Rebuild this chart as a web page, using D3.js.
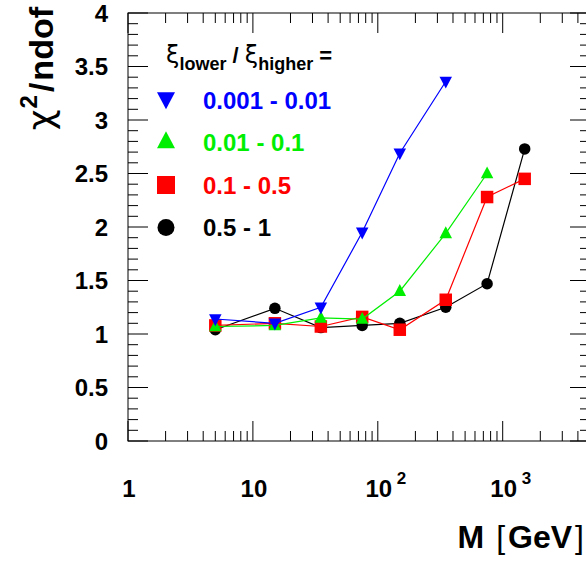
<!DOCTYPE html>
<html><head><meta charset="utf-8">
<script src="https://cdn.jsdelivr.net/npm/d3@7"></script>
<style>body{margin:0;background:#fff}svg{display:block}text{font-family:"Liberation Sans",Arial,Helvetica,sans-serif}</style>
</head><body>
<script>
// ---- data ----
const massValues = [5, 15, 35, 75, 150, 350, 750, 1500];
const seriesNames = ["0.001 - 0.01", "0.01 - 0.1", "0.1 - 0.5", "0.5 - 1"];
const seriesColors = ["#0000ff", "#00ee00", "#ff0000", "#000000"];
const seriesMarkers = ["triDown", "triUp", "square", "circle"];
const blueValues  = [1.14, 1.10, 1.25, 1.95, 2.69, 3.36];
const greenValues = [1.07, 1.08, 1.15, 1.14, 1.40, 1.94, 2.50];
const redValues   = [1.08, 1.10, 1.07, 1.16, 1.04, 1.32, 2.28, 2.45];
const blackValues = [1.04, 1.24, 1.06, 1.08, 1.10, 1.25, 1.47, 2.73];
const yTickLabels = ["0", "0.5", "1", "1.5", "2", "2.5", "3", "3.5", "4"];
const xTickLabels = [["1", ""], ["10", ""], ["10", "2"], ["10", "3"]];

const W = 586, H = 561;
const svg = d3.select("body").append("svg").attr("width", W).attr("height", H);
svg.append("rect").attr("width", W).attr("height", H).attr("fill", "#fff");

const x = d3.scaleLog().domain([1, 5000]).range([128, 590]);
const y = d3.scaleLinear().domain([0, 4]).range([441, 13]);

// frame
const g = svg.append("g");
g.append("rect").attr("x", x(1)).attr("y", y(4)).attr("width", x(5000) - x(1)).attr("height", y(0) - y(4))
  .attr("fill", "none").attr("stroke", "#000").attr("stroke-width", 1);

// y ticks
const yMinor = d3.range(0, 41).map(i => i / 10);
yMinor.forEach(v => {
  const major = Math.abs(v * 2 - Math.round(v * 2)) < 1e-6;
  const L = major ? 20 : 10;
  g.append("line").attr("x1", x(1)).attr("x2", x(1) + L).attr("y1", y(v)).attr("y2", y(v)).attr("stroke", "#000");
  g.append("line").attr("x1", x(5000)).attr("x2", x(5000) - L).attr("y1", y(v)).attr("y2", y(v)).attr("stroke", "#000");
});
yTickLabels.forEach(t => {
  const v = +t;
  g.append("text").attr("x", 108).attr("y", y(v)).attr("dy", "0.36em").attr("text-anchor", "end")
    .attr("font-size", 24).attr("font-weight", "bold").text(t);
});

// x ticks
const xTicks = [];
for (let d = 1; d <= 1000; d *= 10) for (let k = 1; k <= 9; k++) { const v = d * k; if (v <= 5000) xTicks.push(v); }
xTicks.forEach(v => {
  const major = Math.abs(Math.log10(v) - Math.round(Math.log10(v))) < 1e-9;
  const L = major ? 20 : 10;
  g.append("line").attr("x1", x(v)).attr("x2", x(v)).attr("y1", y(0)).attr("y2", y(0) - L).attr("stroke", "#000");
  g.append("line").attr("x1", x(v)).attr("x2", x(v)).attr("y1", y(4)).attr("y2", y(4) + L).attr("stroke", "#000");
});
xTickLabels.forEach((lab, i) => {
  const v = Math.pow(10, i);
  g.append("text").attr("x", x(v) + 1).attr("y", 497).attr("text-anchor", "middle")
    .attr("font-size", 24).attr("font-weight", "bold").text(lab[0]);
  if (lab[1]) g.append("text").attr("x", x(v) + 19).attr("y", 484).attr("font-size", 17)
    .attr("font-weight", "bold").text(lab[1]);
});

// axis titles
const xt = g.append("text").attr("x", 584).attr("y", 548).attr("text-anchor", "end")
  .attr("font-size", 32).attr("font-weight", "bold");
xt.append("tspan").text("M");
xt.append("tspan").attr("dx", 12).attr("font-weight", "normal").text("[");
xt.append("tspan").attr("dx", 3).text("GeV");
xt.append("tspan").attr("dx", 3).attr("font-weight", "normal").text("]");

const yt = g.append("text").attr("transform", "translate(53,7) rotate(-90)").attr("text-anchor", "end")
  .attr("font-size", 34).attr("font-weight", "bold");
yt.append("tspan").attr("font-weight", "normal").attr("font-family", "DejaVu Sans").attr("font-size", 36).text("χ");
yt.append("tspan").attr("font-size", 24).attr("dy", -16).attr("dx", 1).text("2");
yt.append("tspan").attr("dy", 16).attr("dx", 3).text("/");
yt.append("tspan").attr("dx", 2).text("ndof");

// series
const allValues = [blueValues, greenValues, redValues, blackValues];
function markerPath(type, s) {
  if (type === "circle") return d3.symbol(d3.symbolCircle, Math.PI * (s / 2) * (s / 2))();
  if (type === "square") return `M${-s/2},${-s/2}h${s}v${s}h${-s}Z`;
  const h = s * 0.95;
  if (type === "triUp") return `M0,${-h*0.6}L${s/2},${h*0.4}L${-s/2},${h*0.4}Z`;
  return `M0,${h*0.6}L${s/2},${-h*0.4}L${-s/2},${-h*0.4}Z`;
}
const line = d3.line().x(d => x(d[0])).y(d => y(d[1]));
[3, 2, 1, 0].forEach(si => {
  const pts = allValues[si].map((v, i) => [massValues[i], v]);
  const sg = g.append("g");
  sg.append("path").attr("d", line(pts)).attr("fill", "none").attr("stroke", seriesColors[si]).attr("stroke-width", 1.2);
  sg.selectAll("path.m").data(pts).enter().append("path").attr("class", "m")
    .attr("transform", d => `translate(${x(d[0])},${y(d[1])})`)
    .attr("d", markerPath(seriesMarkers[si], si === 3 ? 11.5 : 12.5)).attr("fill", seriesColors[si]);
});

// legend
const lg = svg.append("g");
const lt = lg.append("text").attr("x", 166).attr("y", 63).attr("font-size", 24);
lt.append("tspan").attr("font-family", "DejaVu Sans").attr("font-size", 24).text("ξ");
lt.append("tspan").attr("font-size", 18).attr("font-weight", "bold").attr("dy", 7).text("lower");
lt.append("tspan").attr("font-size", 22).attr("font-weight", "bold").attr("dy", -7).text(" / ");
lt.append("tspan").attr("font-family", "DejaVu Sans").attr("font-size", 24).text("ξ");
lt.append("tspan").attr("font-size", 18).attr("font-weight", "bold").attr("dy", 7).text("higher");
lt.append("tspan").attr("font-size", 22).attr("font-weight", "bold").attr("dy", -7).text(" =");

const rowY = [100, 142.5, 185, 227.5];
seriesNames.forEach((name, i) => {
  lg.append("path").attr("transform", `translate(166,${rowY[i] + (i === 0 ? -1 : i === 1 ? -1 : 0)})`)
    .attr("d", markerPath(seriesMarkers[i], i === 3 ? 17 : 18)).attr("fill", seriesColors[i]);
  lg.append("text").attr("x", 203).attr("y", rowY[i]).attr("dy", "0.36em").attr("font-size", 24)
    .attr("font-weight", "bold").attr("fill", seriesColors[i]).text(name);
});
</script>
</body></html>
